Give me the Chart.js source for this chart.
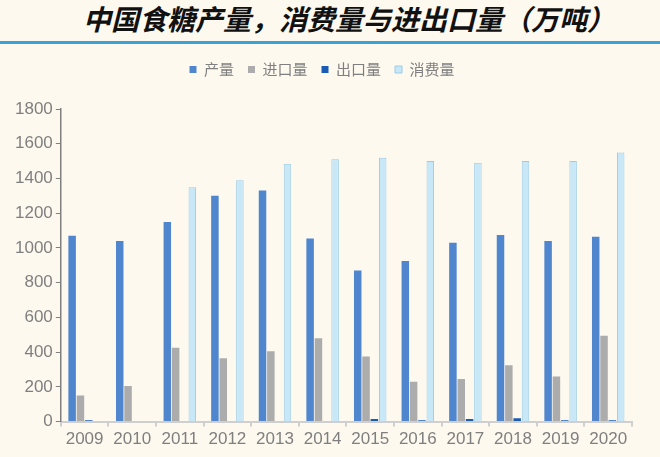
<!DOCTYPE html>
<html>
<head>
<meta charset="utf-8">
<script src="https://cdn.jsdelivr.net/npm/chart.js@4"></script>
<style>
  html, body { margin: 0; padding: 0; background: #fdf9ef; }
  #wrap { position: relative; width: 660px; height: 457px; overflow: hidden; }
  #title {
    position: absolute; left: 83px; top: 0px;
    font-family: "Noto Sans CJK SC", sans-serif;
    font-size: 28px; font-weight: bold; font-style: italic;
    color: #111; white-space: nowrap; line-height: 36px;
  }
  #rule { position: absolute; left: 0; top: 41px; width: 660px; height: 3px; background: #3aa2d4; }
  #c { position: absolute; left: 0; top: 0; }
</style>
</head>
<body>
<div id="wrap">
  <div id="title">中国食糖产量，消费量与进出口量（万吨）</div>
  <div id="rule"></div>
  <canvas id="c" width="660" height="457"></canvas>
</div>
<script>
// 年份
var years = ['2009','2010','2011','2012','2013','2014','2015','2016','2017','2018','2019','2020'];
// 万吨
var chanliang = [1070, 1040, 1150, 1300, 1330, 1055, 870, 925, 1030, 1075, 1040, 1065];
var jinkou    = [150, 205, 425, 365, 405, 480, 375, 230, 245, 325, 260, 495];
var chukou    = [8, 0, 0, 0, 0, 0, 15, 8, 15, 20, 8, 8];
var xiaofei   = [null, null, 1350, 1390, 1485, 1510, 1520, 1500, 1490, 1500, 1500, 1550];

var grey = '#7f7f7f';
var font = { family: 'Liberation Sans, Arial, sans-serif', size: 17 };

function ds(label, data, bg, border) {
    return {
        label: label,
        data: data,
        backgroundColor: bg,
        borderColor: border,
        borderWidth: border ? 1 : 0,
        barPercentage: 0.9,
        categoryPercentage: 0.7
    };
}

// extra room under the legend
var legendGap = {
    id: 'legendGap',
    beforeInit: function(chart) {
        var fit = chart.legend.fit;
        chart.legend.fit = function() {
            fit.bind(chart.legend)();
            this.height += 22;
        };
    }
};

new Chart(document.getElementById('c'), {
    type: 'bar',
    data: {
        labels: years,
        datasets: [
            ds('产量', chanliang, '#4f86cd'),
            ds('进口量', jinkou, '#acacac'),
            ds('出口量', chukou, '#1a5cb5'),
            ds('消费量', xiaofei, '#c8e8f8', '#9ccbe4')
        ]
    },
    plugins: [legendGap],
    options: {
        responsive: false,
        animation: false,
        layout: { padding: { top: 48, left: 12, right: 28, bottom: 4 } },
        plugins: {
            tooltip: { enabled: false },
            legend: {
                position: 'top',
                labels: {
                    boxWidth: 7, boxHeight: 7, padding: 14,
                    color: grey,
                    font: { family: 'Noto Sans CJK SC', size: 15 }
                }
            }
        },
        scales: {
            x: {
                offset: true,
                grid: { offset: true, drawOnChartArea: false, tickLength: 5, color: '#cfcfcf', lineWidth: 2 },
                border: { color: '#cfcfcf', width: 2 },
                ticks: { color: grey, font: font, maxRotation: 0, padding: 3 }
            },
            y: {
                min: 0, max: 1800,
                grid: { drawOnChartArea: false, tickLength: 5, color: '#7f7f7f' },
                border: { color: '#7f7f7f', width: 1.5 },
                ticks: {
                    stepSize: 200, color: grey, font: font, padding: 3,
                    callback: function(v) { return String(v); }
                }
            }
        }
    }
});
</script>
</body>
</html>
